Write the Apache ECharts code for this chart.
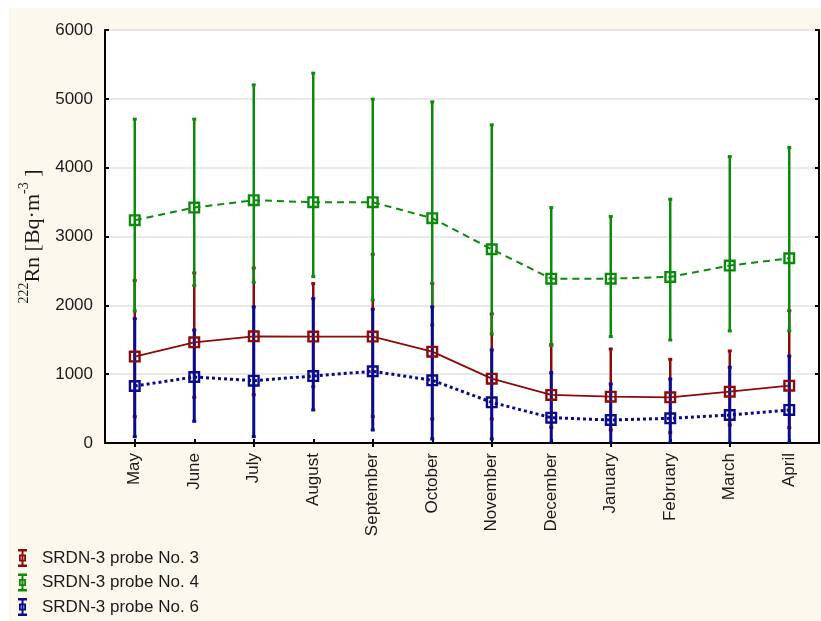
<!DOCTYPE html>
<html>
<head>
<meta charset="utf-8">
<script src="https://cdn.jsdelivr.net/npm/echarts@6/dist/echarts.min.js"></script>
<style>
html,body{margin:0;padding:0;background:#ffffff;}
#chart{width:821px;height:621px;}
</style>
</head>
<body>
<div id="chart"></div>
<script>
const months = ['May','June','July','August','September','October','November','December','January','February','March','April'];
const yTicks = [0,1000,2000,3000,4000,5000,6000];

const p3Mean = [1255,1463,1550,1546,1546,1327,935,698,673,664,746,833];
const p3Low  = [383,664,703,819,383,349,349,228,189,150,262,223];
const p3High = [2360,2470,2543,2316,2742,2316,1875,1430,1366,1216,1337,1923];

const p4Mean = [3237,3420,3527,3498,3498,3266,2815,2388,2388,2413,2577,2684];
const p4Low  = [1918,2287,2335,2418,2078,1715,1584,1415,1546,1497,1628,1628];
const p4High = [4705,4705,5203,5373,4995,4956,4622,3420,3290,3542,4161,4292];

const p6Mean = [828,959,906,973,1042,911,591,368,334,358,407,480];
const p6Low  = [92,315,92,480,189,58,58,0,0,0,0,0];
const p6High = [1807,1642,1977,2098,1943,1977,1352,1022,858,930,1100,1264];

const names = ['SRDN-3 probe No. 3','SRDN-3 probe No. 4','SRDN-3 probe No. 6'];
const colors = ['#8c0a0a','#0b8a0b','#0a0a8e'];

const FONT = 'Liberation Sans, Arial, sans-serif';
const SERIF = 'Liberation Serif, Times New Roman, serif';
const markerPath = 'path://M0,0H10V10H0Z M2,2V8H8V2Z';
const legendIcon = 'path://M0,0H9V2.5H0Z M3.5,2.5H5.5V15.5H3.5Z M0,15.5H9V18H0Z M1,5.5H8V12.5H1Z M2.8,7.3V10.7H6.2V7.3Z';

function errSeries(name, lows, highs, color, width) {
  return {
    type: 'custom',
    name: name,
    xAxisIndex: 0, yAxisIndex: 0,
    silent: true,
    clip: true,
    data: months.map((m, i) => [i, lows[i], highs[i]]),
    renderItem: function (params, api) {
      const lo = api.coord([api.value(0), api.value(1)]);
      const hi = api.coord([api.value(0), api.value(2)]);
      const c = 2;
      return {
        type: 'group',
        children: [
          {type: 'line', shape: {x1: lo[0], y1: lo[1], x2: hi[0], y2: hi[1]}, style: {stroke: color, lineWidth: width}},
          {type: 'line', shape: {x1: lo[0]-c, y1: lo[1], x2: lo[0]+c, y2: lo[1]}, style: {stroke: color, lineWidth: 3}},
          {type: 'line', shape: {x1: hi[0]-c, y1: hi[1], x2: hi[0]+c, y2: hi[1]}, style: {stroke: color, lineWidth: 3}}
        ]
      };
    },
    z: 2
  };
}

function lineSeries(name, values, color, lineType, width) {
  return {
    type: 'line',
    name: name,
    data: values,
    symbol: markerPath,
    symbolSize: 12,
    symbolKeepAspect: true,
    lineStyle: {color: color, width: width, type: lineType},
    itemStyle: {color: color},
    emphasis: {disabled: true},
    z: 3
  };
}

const chart = echarts.init(document.getElementById('chart'), null, {renderer: 'canvas'});
chart.setOption({
  animation: false,
  backgroundColor: '#ffffff',
  graphic: [
    {type: 'rect', shape: {x: 9, y: 8, width: 812, height: 613}, style: {fill: '#fdf8ee'}, z: -10, silent: true},
    {type: 'rect', shape: {x: 105, y: 30, width: 714, height: 413}, style: {fill: '#ffffff'}, z: -9, silent: true}
  ],
  grid: {left: 105, right: 2, top: 30, bottom: 178, containLabel: false},
  legend: {
    orient: 'vertical',
    left: 18,
    top: 549,
    padding: 0,
    itemWidth: 9,
    itemHeight: 18,
    itemGap: 6.5,
    textStyle: {fontFamily: FONT, fontSize: 17, color: '#1a1a1a', padding: [0,0,0,10]},
    data: names.map((n, i) => ({name: n, icon: legendIcon, itemStyle: {color: colors[i]}}))
  },
  xAxis: [
    {
      type: 'category', data: months, boundaryGap: true, position: 'bottom',
      axisLine: {show: true, lineStyle: {color: '#000', width: 2}},
      axisTick: {show: true, inside: true, alignWithLabel: true, length: 4, lineStyle: {color: '#000', width: 2}},
      axisLabel: {rotate: 90, margin: 10, fontFamily: FONT, fontSize: 17, color: '#1a1a1a', interval: 0},
      splitLine: {show: false}
    },
    {
      type: 'category', data: months, boundaryGap: true, position: 'top',
      axisLine: {show: true, lineStyle: {color: '#000', width: 2}},
      axisTick: {show: true, inside: true, alignWithLabel: true, length: 4, lineStyle: {color: '#000', width: 2}},
      axisLabel: {show: false},
      splitLine: {show: false}
    }
  ],
  yAxis: [
    {
      type: 'value', min: 0, max: 6000, interval: 1000, position: 'left',
      axisLine: {show: true, lineStyle: {color: '#000', width: 2}},
      axisTick: {show: true, inside: true, length: 4, lineStyle: {color: '#000', width: 2}},
      axisLabel: {margin: 12, fontFamily: FONT, fontSize: 17, color: '#1a1a1a',
        formatter: function (v) { return yTicks.indexOf(v) >= 0 ? String(v) : ''; }},
      splitLine: {show: true, lineStyle: {color: '#e2e2e2', width: 1.5}},
      name: '{sup|222}{main|Rn [Bq·m}{sup|-3}{main| ]}',
      nameLocation: 'middle',
      nameGap: 60,
      nameRotate: 90,
      nameTextStyle: {
        rich: {
          main: {fontFamily: SERIF, fontSize: 22, color: '#1a1a1a', verticalAlign: 'bottom', lineHeight: 27},
          sup: {fontFamily: SERIF, fontSize: 14, color: '#1a1a1a', verticalAlign: 'top', lineHeight: 27}
        }
      }
    },
    {
      type: 'value', min: 0, max: 6000, interval: 1000, position: 'right',
      axisLine: {show: true, lineStyle: {color: '#000', width: 2}},
      axisTick: {show: true, inside: true, length: 4, lineStyle: {color: '#000', width: 2}},
      axisLabel: {show: false},
      splitLine: {show: false}
    }
  ],
  series: [
    errSeries('err3', p3Low, p3High, colors[0], 2.5),
    errSeries('err4', p4Low, p4High, colors[1], 2.5),
    errSeries('err6', p6Low, p6High, colors[2], 3),
    lineSeries(names[0], p3Mean, colors[0], 'solid', 1.8),
    lineSeries(names[1], p4Mean, colors[1], [7, 5], 2),
    lineSeries(names[2], p6Mean, colors[2], [3, 3], 3)
  ]
});
</script>
</body>
</html>
